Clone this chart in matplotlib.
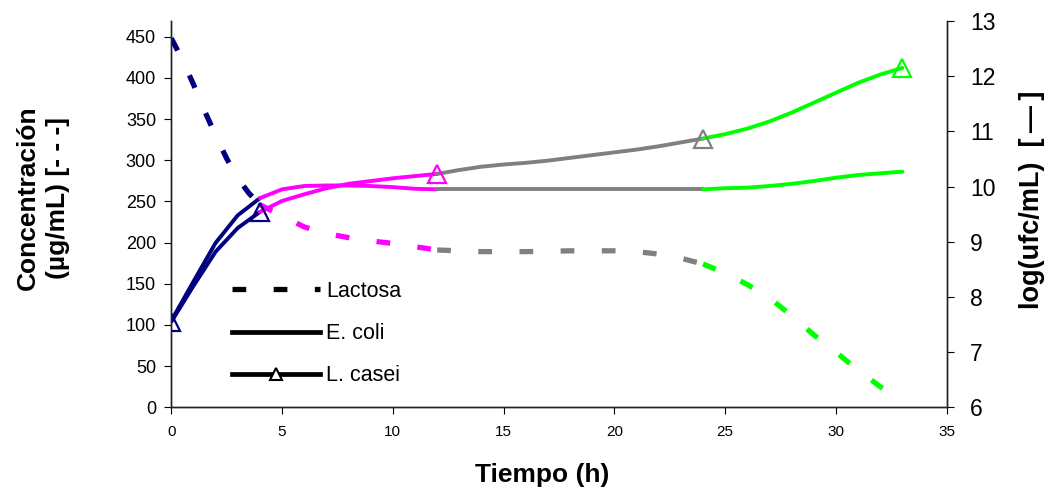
import numpy as np
import matplotlib.pyplot as plt
from matplotlib.lines import Line2D

plt.rcParams['font.family'] = ['Liberation Sans', 'DejaVu Sans']

# Lactosa (eje izquierdo, ug/mL)
t_lac = [0, 0.5, 1, 1.5, 2, 2.5, 3, 3.5, 4, 5, 6, 7, 8, 9, 10, 11, 12,
         14, 16, 18, 20, 21, 22, 23, 24, 25, 26, 27, 28, 29, 30, 31, 32, 32.2]
lactosa = [448, 422, 392, 360, 330, 302, 278, 260, 246, 232, 219, 211, 206, 202, 199, 195, 191,
           189, 189, 190, 190, 189, 186, 181, 174, 163, 149, 133, 111, 88, 67, 45, 25, 21]

# E. coli (eje derecho, log ufc/mL)
t_eco = [0, 1, 2, 3, 4, 5, 6, 7, 8, 9, 10, 11, 12, 16, 20, 24,
         25, 26, 27, 28, 29, 30, 31, 32, 33]
ecoli = [7.57, 8.28, 8.98, 9.48, 9.79, 9.95, 10.01, 10.02, 10.02, 10.01, 9.99, 9.96, 9.95, 9.95, 9.95, 9.95,
         9.97, 9.98, 10.01, 10.05, 10.10, 10.16, 10.21, 10.24, 10.27]

# L. casei (eje derecho, log ufc/mL)
t_lca = [0, 1, 2, 3, 4, 5, 6, 7, 8, 9, 10, 11, 12, 13, 14, 15, 16, 17, 18, 19, 20,
         21, 22, 23, 24, 25, 26, 27, 28, 29, 30, 31, 32, 33]
lcasei = [7.55, 8.20, 8.82, 9.25, 9.54, 9.74, 9.86, 9.97, 10.05, 10.10, 10.15, 10.19, 10.23,
          10.30, 10.36, 10.40, 10.43, 10.47, 10.52, 10.57, 10.62, 10.67, 10.73, 10.80, 10.87,
          10.95, 11.05, 11.18, 11.34, 11.52, 11.70, 11.88, 12.03, 12.15]
t_mark = [0, 4, 12, 24, 33]

# tramos de color: cada tramo termina en un muestreo
bounds = [0, 4, 12, 24, 40]
seg_colors = ['#000080', '#FF00FF', '#808080', '#00FF00']


def draw_segments(ax, t, y, **kw):
    t = np.asarray(t, dtype=float)
    y = np.asarray(y, dtype=float)
    for i, c in enumerate(seg_colors):
        m = (t >= bounds[i]) & (t <= bounds[i + 1])
        ax.plot(t[m], y[m], color=c, **kw)


fig = plt.figure(figsize=(10.51, 4.93), dpi=100)
ax = fig.add_axes([0.163, 0.1738, 0.7378, 0.7836])
ax2 = ax.twinx()

draw_segments(ax, t_lac, lactosa, lw=3.8, dashes=(2.6, 5.2), dash_capstyle='butt')
draw_segments(ax2, t_eco, ecoli, lw=2.8, solid_capstyle='round')
draw_segments(ax2, t_lca, lcasei, lw=2.8, solid_capstyle='round')

lca_arr = dict(zip(t_lca, lcasei))
for tm in t_mark:
    idx = max(0, np.searchsorted(bounds, tm) - 1)
    ax2.plot(tm, lca_arr[tm], marker='^', ms=13, mfc='none', mec=seg_colors[idx], mew=1.6)

ax.set_xlim(0, 35)
ax.set_ylim(0, 469)
ax2.set_ylim(6, 13)
ax.set_xticks(np.arange(0, 36, 5))
ax.set_yticks(np.arange(0, 451, 50))
ax2.set_yticks(np.arange(6, 14, 1))

for a in (ax, ax2):
    a.spines['top'].set_visible(False)
    for s in a.spines.values():
        s.set_linewidth(1.0)
        s.set_color('#222222')
ax.tick_params(axis='x', labelsize=11, length=5, pad=8)
ax.tick_params(axis='y', labelsize=13, length=5, pad=6)
ax2.tick_params(axis='y', labelsize=16.5, length=5, pad=12)

fig.text(542 / 1051, 1 - 475 / 493, 'Tiempo (h)', fontsize=19, fontweight='bold',
         ha='center', va='center')
fig.text(43 / 1051, 1 - 198 / 493, 'Concentración\n(µg/mL) [- - -]', fontsize=19,
         fontweight='bold', rotation=90, ha='center', va='center', multialignment='center',
         linespacing=1.35)
fig.text(1032 / 1051, 1 - 200 / 493, 'log(ufc/mL)  [\u2009—\u2009]', fontsize=19.5,
         fontweight='bold', rotation=90, ha='center', va='center')

handles = [
    Line2D([], [], color='black', lw=3.8, dashes=(2.6, 5.2), dash_capstyle='butt'),
    Line2D([], [], color='black', lw=3.4),
    Line2D([], [], color='black', lw=3.4, marker='^', ms=9, mfc='white', mec='black', mew=1.5),
]
ax2.legend(handles, ['Lactosa', 'E. coli', 'L. casei'], loc='upper left',
           bbox_to_anchor=(232 / 1051, 1 - 281 / 493), bbox_transform=fig.transFigure,
           frameon=False, fontsize=15.5, handlelength=4.1, handletextpad=0.28,
           labelspacing=0.98, borderpad=0, borderaxespad=0, numpoints=1)

fig.savefig('out.png', dpi=100)
